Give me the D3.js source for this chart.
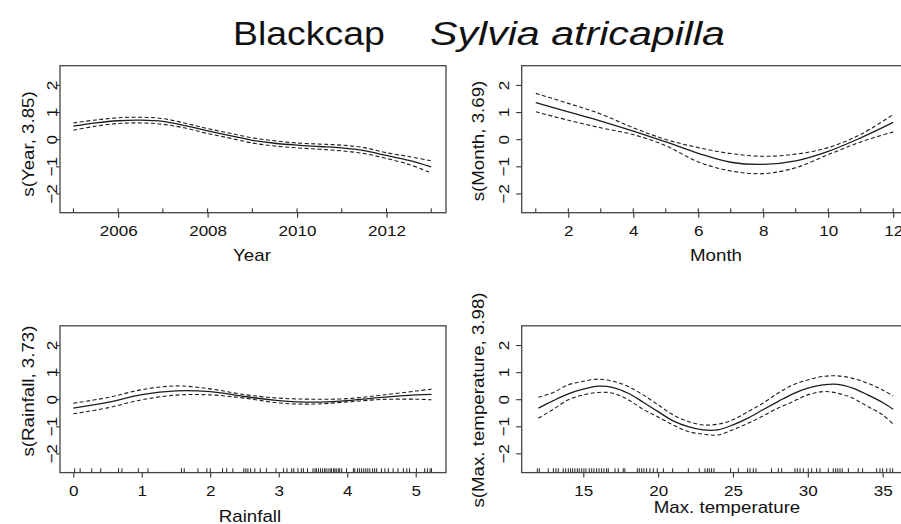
<!DOCTYPE html>
<html><head><meta charset="utf-8">
<script src="https://cdn.jsdelivr.net/npm/d3@7"></script>
<style>
body{margin:0;background:#fff}
svg{display:block}
text{font-family:"Liberation Sans",Arial,sans-serif;fill:#111}
</style>
</head><body>
<svg id="c" width="901" height="524"></svg>
<script>
// ---------- data ----------
const yTickValues = [-2, -1, 0, 1, 2];

const yearX = [2005, 2005.5, 2006, 2006.5, 2007, 2007.5, 2008, 2008.5, 2009, 2009.5, 2010, 2010.5, 2011, 2011.5, 2012, 2012.5, 2013];
const yearFit = [0.48, 0.60, 0.68, 0.70, 0.66, 0.50, 0.31, 0.13, -0.04, -0.15, -0.22, -0.27, -0.32, -0.42, -0.60, -0.78, -1.02];
const yearUpper = [0.60, 0.71, 0.79, 0.81, 0.76, 0.59, 0.39, 0.22, 0.05, -0.06, -0.14, -0.18, -0.22, -0.31, -0.50, -0.64, -0.80];
const yearLower = [0.33, 0.48, 0.58, 0.60, 0.55, 0.41, 0.21, 0.04, -0.14, -0.25, -0.32, -0.37, -0.43, -0.53, -0.71, -0.93, -1.24];
const yearRug = [2005, 2006, 2007, 2008, 2009, 2010, 2011, 2012, 2013];
const yearTicks = [2006, 2008, 2010, 2012];

const monthX = [1, 2, 3, 4, 5, 6, 7, 8, 9, 10, 11, 12];
const monthFit = [1.35, 1.01, 0.67, 0.30, -0.10, -0.52, -0.85, -0.93, -0.80, -0.45, 0.05, 0.62];
const monthUpper = [1.69, 1.32, 0.93, 0.42, -0.01, -0.31, -0.53, -0.63, -0.55, -0.31, 0.18, 0.91];
const monthLower = [1.01, 0.70, 0.42, 0.17, -0.24, -0.84, -1.17, -1.27, -1.05, -0.57, -0.10, 0.27];
const monthRug = [1, 2, 3, 4, 5, 6, 7, 8, 9, 10, 11, 12];
const monthTicks = [2, 4, 6, 8, 10, 12];

const rainX = [0, 0.5, 1, 1.5, 2, 2.5, 3, 3.5, 4, 4.5, 5, 5.23];
const rainFit = [-0.33, -0.12, 0.17, 0.31, 0.28, 0.10, -0.05, -0.11, -0.05, 0.07, 0.16, 0.18];
const rainUpper = [-0.15, 0.06, 0.35, 0.49, 0.38, 0.17, 0.04, 0.00, 0.02, 0.15, 0.30, 0.37];
const rainLower = [-0.54, -0.32, -0.02, 0.15, 0.16, 0.04, -0.14, -0.18, -0.10, -0.01, 0.00, -0.02];
const rainRug = [0.02, 0.10, 0.27, 0.40, 0.66, 0.71, 0.95, 1.09, 1.58, 1.62, 1.82, 1.95, 2.00, 2.18, 2.24, 2.33,
  2.49, 2.52, 2.55, 2.59, 2.65, 2.73, 2.82, 2.96, 3.07, 3.12, 3.19, 3.22, 3.28, 3.33, 3.36, 3.42,
  3.50, 3.53, 3.55, 3.58, 3.61, 3.64, 3.67, 3.69, 3.72, 3.75, 3.77, 3.80, 3.82, 3.84, 3.87, 3.89, 3.92,
  3.99, 4.09, 4.11, 4.15, 4.18, 4.21, 4.24, 4.27, 4.30, 4.33, 4.37, 4.40, 4.43,
  4.50, 4.55, 4.60, 4.67, 4.74, 4.82, 4.87, 4.91, 5.01, 5.13, 5.17, 5.21, 5.23];
const rainTicks = [0, 1, 2, 3, 4, 5];

const tempX = [12, 13, 14, 15, 16, 17, 18, 19, 20, 21, 22, 23, 24, 25, 26, 27, 28, 29, 30, 31, 32, 33, 34, 35, 35.7];
const tempFit = [-0.33, -0.05, 0.20, 0.37, 0.48, 0.43, 0.22, -0.11, -0.46, -0.80, -1.01, -1.13, -1.13, -0.95, -0.70, -0.39, -0.09, 0.20, 0.41, 0.53, 0.55, 0.41, 0.16, -0.12, -0.37];
const tempUpper = [0.07, 0.25, 0.53, 0.66, 0.74, 0.66, 0.47, 0.16, -0.21, -0.58, -0.82, -0.95, -0.92, -0.76, -0.46, -0.15, 0.22, 0.53, 0.71, 0.84, 0.86, 0.77, 0.59, 0.34, 0.12];
const tempLower = [-0.70, -0.37, -0.02, 0.16, 0.25, 0.22, -0.02, -0.37, -0.66, -0.95, -1.19, -1.29, -1.32, -1.13, -0.89, -0.62, -0.33, -0.09, 0.16, 0.28, 0.22, 0.04, -0.27, -0.58, -0.92];
const tempRug = [11.93, 12.06, 12.66, 13.0, 13.17, 13.33, 13.66, 13.82, 14.0, 14.15, 14.29, 14.44, 14.6, 14.73, 14.89, 15.04, 15.18,
  15.4, 15.56, 15.71, 15.89, 16.05, 16.22, 16.38, 16.56, 16.67, 17.12, 17.34, 17.67, 17.78,
  18.61, 18.74, 18.9, 19.05, 19.23, 19.45, 19.68, 19.94, 20.35, 20.97, 22.02, 22.75,
  23.13, 23.29, 23.42, 23.57, 23.73, 24.84, 25.36, 25.98, 26.14, 26.36, 26.54, 27.58, 28.03, 28.25,
  29.14, 29.3, 29.48, 29.7, 30.03, 30.26, 30.59, 30.81, 31.37, 31.7, 31.86, 32.0, 32.15, 32.3, 32.71,
  33.37, 33.66, 34.6, 34.82, 35.0, 35.27, 35.49, 35.67];
const tempTicks = [15, 20, 25, 30, 35];

const titleMain = "Blackcap";
const titleSpecies = "Sylvia atricapilla";

// ---------- layout ----------
const STRETCH = 1.1;
const svg = d3.select("#c");
function stretchBy(k) {
  return sel => sel.each(function () {
    const l = this.getComputedTextLength();
    d3.select(this).attr("textLength", l * k).attr("lengthAdjust", "spacingAndGlyphs");
  });
}
const stretch = stretchBy(STRETCH);

const panels = [
  {x0: 60, x1: 446, y0: 65.7, y1: 212.7, xDom: [2004.70, 2013.33],
   xs: yearX, fit: yearFit, up: yearUpper, lo: yearLower, rug: yearRug, ticks: yearTicks,
   xTitle: "Year", yTitle: "s(Year, 3.85)", xt: [252, 261], yt: [34, 144], ytick: 4, ylab: 3.5},
  {x0: 521.7, x1: 907.5, y0: 65.7, y1: 212.7, xDom: [0.566, 12.44],
   xs: monthX, fit: monthFit, up: monthUpper, lo: monthLower, rug: monthRug, ticks: monthTicks,
   xTitle: "Month", yTitle: "s(Month, 3.69)", xt: [716, 261], yt: [484, 141], ytick: 5.5, ylab: 12.5},
  {x0: 60, x1: 446, y0: 325.8, y1: 472.6, xDom: [-0.194, 5.442],
   xs: rainX, fit: rainFit, up: rainUpper, lo: rainLower, rug: rainRug, ticks: rainTicks,
   xTitle: "Rainfall", yTitle: "s(Rainfall, 3.73)", xt: [250, 521.5], yt: [34, 391], ytick: 4, ylab: 3.5},
  {x0: 521.7, x1: 907.5, y0: 325.8, y1: 472.6, xDom: [10.885, 36.66],
   xs: tempX, fit: tempFit, up: tempUpper, lo: tempLower, rug: tempRug, ticks: tempTicks,
   xTitle: "Max. temperature", yTitle: "s(Max. temperature, 3.98)", xt: [727, 513], yt: [484, 400], ytick: 5.5, ylab: 12.5}
];

const INK = "#1c1c1c";

panels.forEach(p => {
  const g = svg.append("g");
  const x = d3.scaleLinear().domain(p.xDom).range([p.x0, p.x1]);
  const y = d3.scaleLinear().domain([-2.71, 2.71]).range([p.y1, p.y0]);

  // x axis
  const xa = g.append("g").attr("transform", `translate(0,${p.y1})`)
    .call(d3.axisBottom(x).tickValues(p.ticks).tickSize(5).tickFormat(d3.format("d")));
  xa.select(".domain").remove();
  xa.selectAll(".tick line").attr("stroke", "#333").attr("stroke-width", 1.1);
  xa.selectAll(".tick text").attr("y", 12).attr("dy", "0.71em")
    .style("font-size", "15.5px").style("font-family", '"Liberation Sans",Arial,sans-serif').attr("fill", "#111")
    .call(stretch);

  // y axis
  const ya = g.append("g").attr("transform", `translate(${p.x0},0)`)
    .call(d3.axisLeft(y).tickValues(yTickValues).tickSize(p.ytick).tickFormat(d3.format("d")));
  ya.select(".domain").remove();
  ya.selectAll(".tick line").attr("stroke", "#333").attr("stroke-width", 1.1);
  ya.selectAll(".tick text")
    .attr("transform", "rotate(-90)")
    .attr("x", 0).attr("y", -p.ylab).attr("dy", 0)
    .attr("text-anchor", "middle")
    .style("font-size", "15.5px").style("font-family", '"Liberation Sans",Arial,sans-serif').attr("fill", "#111")
    .call(stretch);

  // curves
  const line = arr => d3.line().x((d, i) => x(p.xs[i])).y(d => y(d)).curve(d3.curveCatmullRom.alpha(0.5))(arr);
  g.append("path").attr("d", line(p.fit)).attr("fill", "none").attr("stroke", INK).attr("stroke-width", 1.3);
  [p.up, p.lo].forEach(arr => {
    g.append("path").attr("d", line(arr)).attr("fill", "none").attr("stroke", INK)
      .attr("stroke-width", 1.1).attr("stroke-dasharray", "4,2.5");
  });

  // rug
  g.selectAll(".rug").data(p.rug).join("line")
    .attr("x1", d => x(d)).attr("x2", d => x(d))
    .attr("y1", p.y1).attr("y2", p.y1 - 4.3)
    .attr("stroke", "#222").attr("stroke-width", 1);

  // box
  g.append("rect").attr("x", p.x0).attr("y", p.y0)
    .attr("width", p.x1 - p.x0).attr("height", p.y1 - p.y0)
    .attr("fill", "none").attr("stroke", "#444").attr("stroke-width", 1.3);

  // titles
  g.append("text").attr("x", p.xt[0]).attr("y", p.xt[1]).attr("text-anchor", "middle")
    .style("font-size", "17px").text(p.xTitle).call(stretch);
  g.append("text").attr("transform", `translate(${p.yt[0]},${p.yt[1]}) rotate(-90)`)
    .attr("text-anchor", "middle").style("font-size", "17px").text(p.yTitle).call(stretch);
});

// main title
svg.append("text").attr("x", 233).attr("y", 45).style("font-size", "34px").text(titleMain).call(stretch);
svg.append("text").attr("x", 430).attr("y", 45).style("font-size", "34px").style("font-style", "italic")
  .text(titleSpecies).call(stretchBy(1.21));
</script>
</body></html>
